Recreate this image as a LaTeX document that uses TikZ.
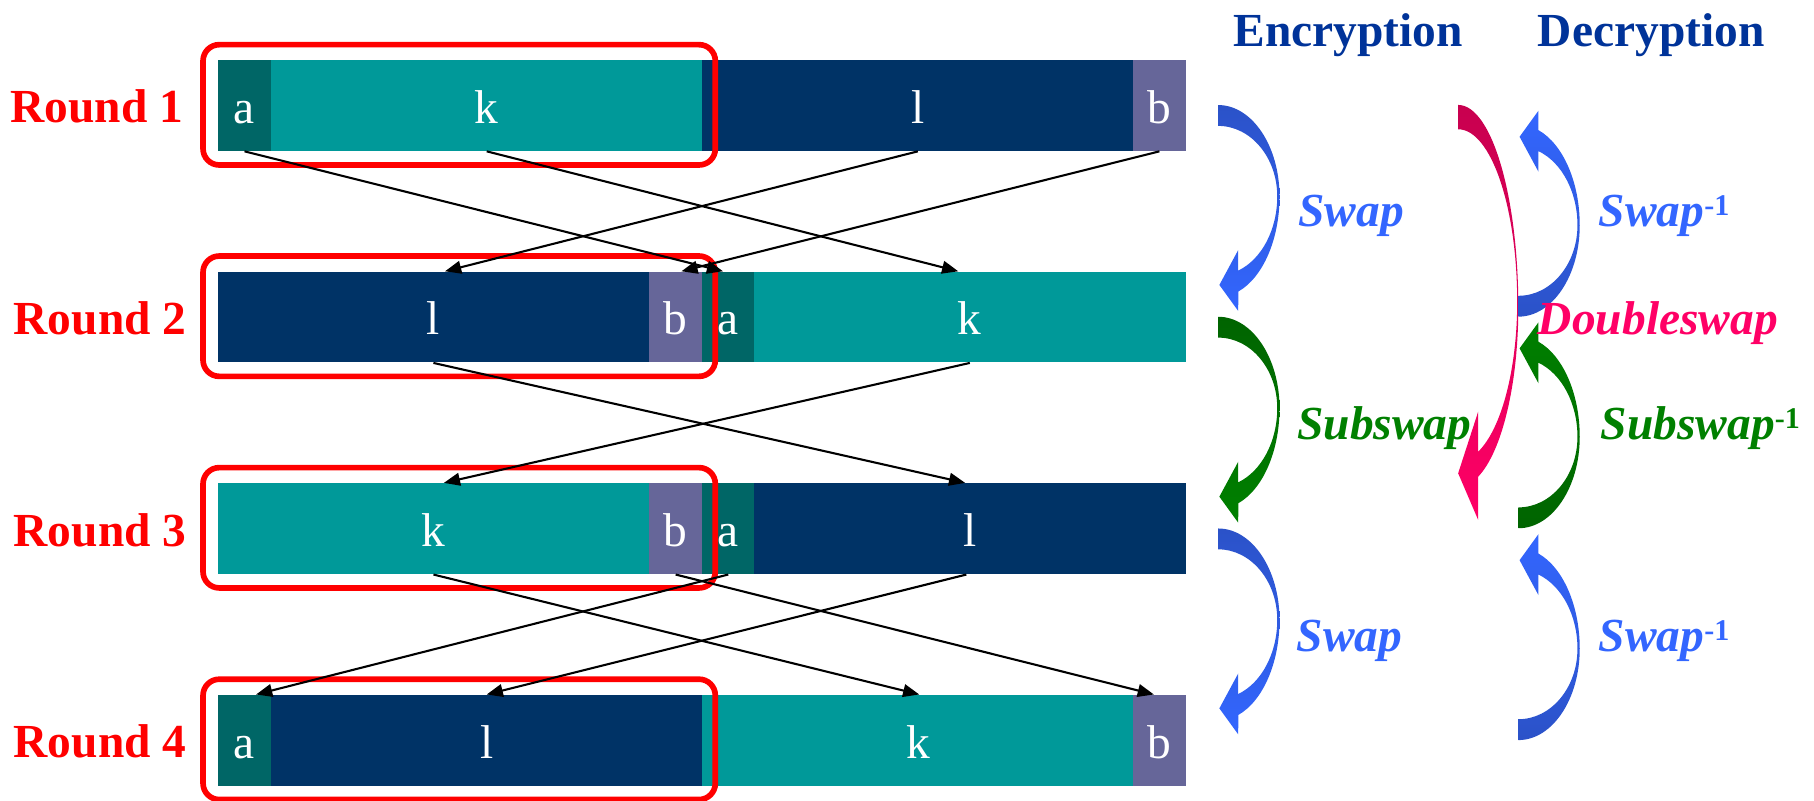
\documentclass[tikz,border=0pt]{standalone}
\usepackage{fontspec}
\setmainfont{Liberation Serif}
\usetikzlibrary{arrows.meta}
\definecolor{segA}{HTML}{006666}
\definecolor{segK}{HTML}{009999}
\definecolor{segL}{HTML}{003366}
\definecolor{segB}{HTML}{666699}
\definecolor{hdrblue}{HTML}{003399}
\definecolor{swapblue}{HTML}{3366FF}
\definecolor{swapdark}{HTML}{2B52C8}
\definecolor{subgreen}{HTML}{008000}
\definecolor{subdark}{HTML}{006400}
\definecolor{dblpink}{HTML}{FF0066}
\definecolor{dbldark}{HTML}{C8004F}
\newcommand\bigfont{\fontsize{20.5pt}{24pt}\selectfont}
\newcommand\supfont{\fontsize{13pt}{14pt}\selectfont}
\newcommand\invsup{\raisebox{5pt}{\upshape\supfont -1}}
% segment node: name, x1, x2, yc, colour, letter
\newcommand\segnode[6]{\node[seg, fill=#5, minimum width={(#3-#2)*0.5pt}] (#1) at ({(#2+#3)/2},#4) {#6};}
% curved arrow: x, y, yscale, shading
\newcommand\crarrow[4]{\shade[shift={(#1,#2)}, yscale=#3, #4] (0,0)
  arc[start angle=-90, end angle=0, x radius=53, y radius=79]
  arc[start angle=0, end angle=70.9, x radius=53, y radius=87]
  -- (17.3,178) -- (1,155.5) -- (17.3,125.3) -- (17.3,143.1)
  arc[start angle=70.2, end angle=0, x radius=51, y radius=68.1]
  arc[start angle=0, end angle=-90, x radius=51, y radius=61] -- cycle;}
\tikzset{
  seg/.style={rectangle, inner sep=0pt, minimum height=39.2pt, text=white,
    font=\bigfont, text height=15.4pt, text depth=0pt},
  redbox/.style={rectangle, draw=red, line width=2.45pt, rounded corners=7pt,
    minimum width=221.4pt, minimum height=52pt, inner sep=0pt},
  conn/.style={-{Triangle[length=7pt,width=5.5pt]}, line width=0.9pt, black},
  rnd/.style={anchor=base east, inner sep=0pt, text=red, font=\bigfont\bfseries},
  hdr/.style={anchor=base west, inner sep=0pt, text=hdrblue, font=\bigfont\bfseries},
  lbl/.style={anchor=base west, inner sep=0pt, font=\bigfont\bfseries\itshape},
}
\begin{document}
\begin{tikzpicture}[x=0.5pt, y=-0.5pt]
\useasboundingbox (0,0) rectangle (1568,692);
% ---- bars ----
\segnode{a1}{188.5}{234.2}{91.2}{segA}{a}
\segnode{k1}{234.2}{607.2}{91.2}{segK}{k}
\segnode{l1}{607.2}{979.6}{91.2}{segL}{l}
\segnode{b1}{979.6}{1024.8}{91.2}{segB}{b}
\segnode{l2}{188.5}{560.8}{274.1}{segL}{l}
\segnode{b2}{560.8}{607.2}{274.1}{segB}{b}
\segnode{a2}{607.2}{651.8}{274.1}{segA}{a}
\segnode{k2}{651.8}{1024.8}{274.1}{segK}{k}
\segnode{k3}{188.5}{560.8}{457}{segK}{k}
\segnode{b3}{560.8}{607.2}{457}{segB}{b}
\segnode{a3}{607.2}{651.8}{457}{segA}{a}
\segnode{l3}{651.8}{1024.8}{457}{segL}{l}
\segnode{a4}{188.5}{234.2}{639.9}{segA}{a}
\segnode{l4}{234.2}{607.2}{639.9}{segL}{l}
\segnode{k4}{607.2}{979.6}{639.9}{segK}{k}
\segnode{b4}{979.6}{1024.8}{639.9}{segB}{b}
% ---- red boxes ----
\node[redbox] (box1) at (396.9,90.6) {};
\node[redbox] (box2) at (396.9,273.3) {};
\node[redbox] (box3) at (396.9,456.2) {};
\node[redbox] (box4) at (396.9,639.1) {};
% ---- round labels ----
\node[rnd] (r1) at (158.7,106.3) {Round 1};
\node[rnd] (r2) at (161.5,289.1) {Round 2};
\node[rnd] (r3) at (161.5,472) {Round 3};
\node[rnd] (r4) at (161.5,654.9) {Round 4};
% ---- connectors ----
\draw[conn] (a1.south) -- ([xshift=-2.25pt]a2.north);
\draw[conn] (k1.south) -- ([xshift=-5pt]k2.north);
\draw[conn] (l1.south) -- ([xshift=5pt]l2.north);
\draw[conn] (b1.south) -- ([xshift=2.5pt]b2.north);
\draw[conn] (l2.south) -- ([xshift=-2pt]l3.north);
\draw[conn] (k2.south) -- ([xshift=4.5pt]k3.north);
\draw[conn] (k3.south) -- ([xshift=0.6pt]k4.north);
\draw[conn] (b3.south) -- ([xshift=-2.4pt]b4.north);
\draw[conn] (a3.south) -- ([xshift=5pt]a4.north);
\draw[conn] ([xshift=-1.5pt]l3.south) -- (l4.north);
% ---- headers ----
\node[hdr] (enc) at (1066,40.3) {Encryption};
\node[hdr] (dec) at (1329,40.3) {Decryption};
% ---- curved arrows ----
\crarrow{1053}{90.8}{1}{top color=swapdark, bottom color=swapblue}
\crarrow{1053}{273.8}{1}{top color=subdark, bottom color=subgreen}
\crarrow{1053}{456.8}{1}{top color=swapdark, bottom color=swapblue}
\shade[shift={(1260.4,90.7)}, top color=dbldark, bottom color=dblpink] (0,0)
  arc[start angle=-90, end angle=0, x radius=52, y radius=175]
  arc[start angle=0, end angle=70.57, x radius=52, y radius=155.2]
  -- (17.3,358.7) -- (0,318.4) -- (17.3,265.1) -- (17.3,299.7)
  arc[start angle=70.2, end angle=0, x radius=51, y radius=137.8]
  arc[start angle=0, end angle=-90, x radius=51, y radius=149] -- cycle;
\crarrow{1312.5}{273.7}{-1}{top color=swapblue, bottom color=swapdark}
\crarrow{1312.5}{456.6}{-1}{top color=subgreen, bottom color=subdark}
\crarrow{1312.5}{639.7}{-1}{top color=swapblue, bottom color=swapdark}
% ---- labels ----
\node[lbl, text=swapblue] (sw1) at (1122,196) {Swap};
\node[lbl, text=subgreen] (sub1) at (1121,380) {Subswap};
\node[lbl, text=swapblue] (sw2) at (1120.5,563.2) {Swap};
\node[lbl, text=swapblue] (swi1) at (1381.6,196) {Swap\invsup};
\node[lbl, text=subgreen] (subi) at (1383.3,380) {Subswap\invsup};
\node[lbl, text=swapblue] (swi2) at (1381.6,563.2) {Swap\invsup};
\node[lbl, text=dblpink] (dbl) at (1329,288.7) {Doubleswap};
\end{tikzpicture}
\end{document}
